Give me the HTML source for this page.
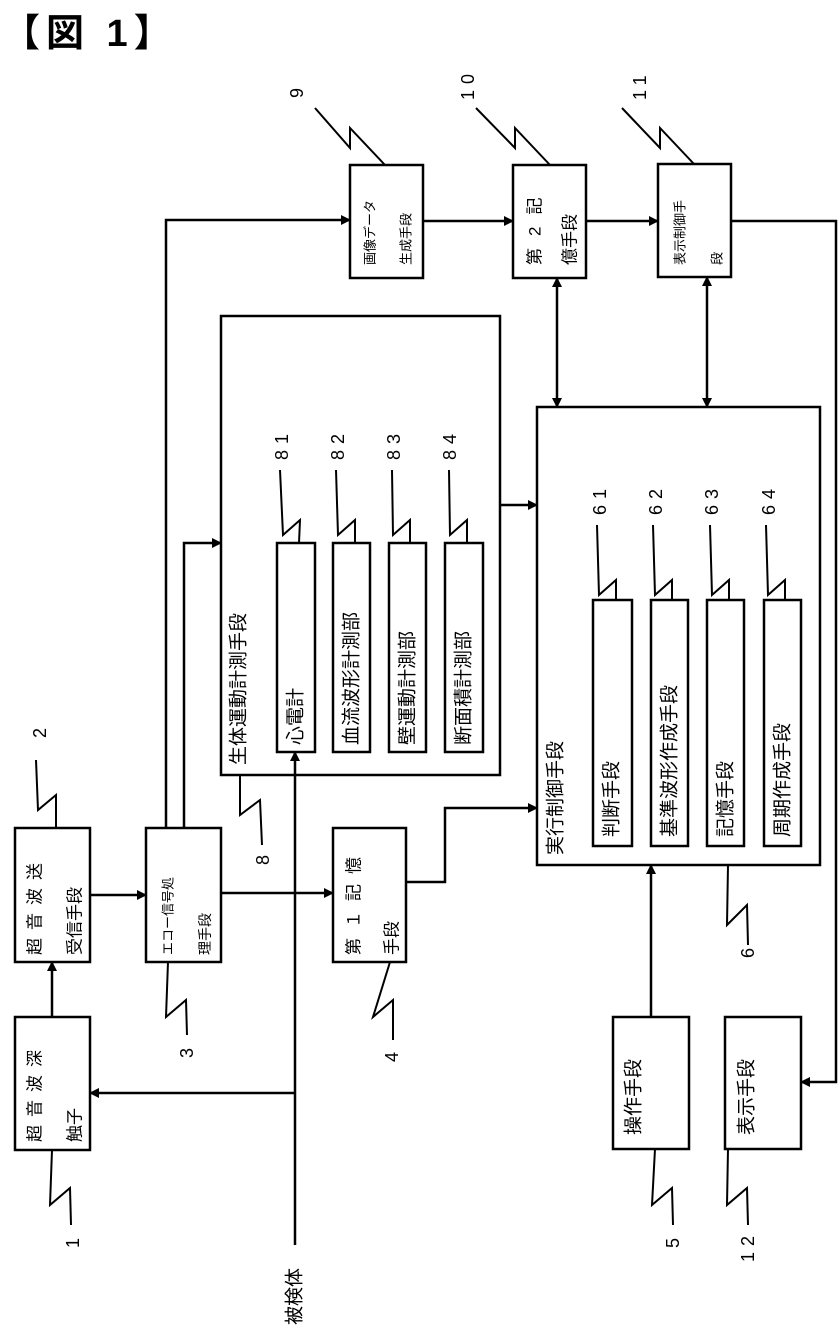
<!DOCTYPE html>
<html><head><meta charset="utf-8"><style>
body{margin:0;background:#fff;}
svg{display:block;}
text{font-family:"Liberation Sans","Noto Sans CJK JP",sans-serif;fill:#000;}
</style></head><body>
<svg width="839" height="1327" viewBox="0 0 839 1327" xmlns="http://www.w3.org/2000/svg">
<defs>
<marker id="a" markerWidth="10" markerHeight="10" refX="9" refY="5" orient="auto" markerUnits="userSpaceOnUse"><path d="M0,0 L10,5 L0,10 Z" fill="#000"/></marker>
<marker id="s" markerWidth="10" markerHeight="10" refX="1" refY="5" orient="auto" markerUnits="userSpaceOnUse"><path d="M10,0 L0,5 L10,10 Z" fill="#000"/></marker>
</defs>
<text x="2" y="46" font-size="38" font-weight="bold" letter-spacing="6">【図 1】</text>
<g fill="none" stroke="#000" stroke-width="2.5">
<rect x="15" y="1017" width="75" height="133"/>
<rect x="15" y="828" width="75" height="134"/>
<rect x="146" y="828" width="75" height="134"/>
<rect x="333" y="828" width="73" height="134"/>
<rect x="221" y="316" width="279" height="459"/>
<rect x="277" y="543" width="38" height="209"/>
<rect x="333" y="543" width="37" height="209"/>
<rect x="389" y="543" width="37" height="209"/>
<rect x="445" y="543" width="38" height="209"/>
<rect x="350" y="165" width="73" height="113"/>
<rect x="513" y="165" width="73" height="113"/>
<rect x="658" y="164" width="73" height="113"/>
<rect x="537" y="407" width="283" height="458"/>
<rect x="593" y="600" width="39" height="246"/>
<rect x="651" y="600" width="37" height="246"/>
<rect x="707" y="600" width="37" height="246"/>
<rect x="764" y="600" width="37" height="246"/>
<rect x="613" y="1017" width="76" height="132"/>
<rect x="725" y="1017" width="76" height="132"/>
</g>
<g fill="none" stroke="#000" stroke-width="2.5">
<line x1="295" y1="1245" x2="295" y2="752" marker-end="url(#a)"/>
<line x1="295" y1="1093" x2="90" y2="1093" marker-end="url(#a)"/>
<line x1="52" y1="1017" x2="52" y2="962" marker-end="url(#a)"/>
<line x1="90" y1="895" x2="146" y2="895" marker-end="url(#a)"/>
<polyline points="166,828 166,220 350,220" marker-end="url(#a)"/>
<polyline points="184,828 184,543 221,543" marker-end="url(#a)"/>
<line x1="221" y1="893" x2="333" y2="893" marker-end="url(#a)"/>
<polyline points="406,882 445,882 445,808 537,808" marker-end="url(#a)"/>
<line x1="500" y1="505" x2="537" y2="505" marker-end="url(#a)"/>
<line x1="423" y1="221" x2="513" y2="221" marker-end="url(#a)"/>
<line x1="586" y1="221" x2="658" y2="221" marker-end="url(#a)"/>
<line x1="557" y1="278" x2="557" y2="407" marker-start="url(#s)" marker-end="url(#a)"/>
<line x1="707" y1="277" x2="707" y2="407" marker-start="url(#s)" marker-end="url(#a)"/>
<polyline points="731,221 836,221 836,1082 801,1082" marker-end="url(#a)"/>
<line x1="651" y1="1017" x2="651" y2="865" marker-end="url(#a)"/>
</g>
<g fill="none" stroke="#000" stroke-width="2">
<polyline points="52,1150 50,1205 70,1188 71,1225"/>
<polyline points="168,962 166,1017 186,1000 187,1035"/>
<polyline points="390,962 373,1017 393,1000 393,1040"/>
<polyline points="655,1149 652,1205 672,1188 673,1225"/>
<polyline points="728,1149 727,1205 747,1188 748,1225"/>
<polyline points="728,865 727,925 747,905 748,945"/>
<polyline points="240,775 240,815 260,800 262,845"/>
<polyline points="56,828 56,795 38,810 36,760"/>
<polyline points="299,543 300,520 283,535 280,470"/>
<polyline points="355,543 355,520 338,535 336,470"/>
<polyline points="410,543 410,520 393,535 392,470"/>
<polyline points="467,543 467,520 450,535 449,470"/>
<polyline points="616,600 616,580 599,595 597,525"/>
<polyline points="672,600 672,580 655,595 653,525"/>
<polyline points="729,600 729,580 712,595 710,525"/>
<polyline points="785,600 785,580 768,595 766,525"/>
<polyline points="385,165 350,128 350,148 315,108"/>
<polyline points="550,165 515,128 515,148 476,108"/>
<polyline points="694,164 660,128 660,148 622,108"/>
</g>
<g font-size="17">
<text transform="translate(35,1142) rotate(-90)" dominant-baseline="central" letter-spacing="8">超音波深</text>
<text transform="translate(75,1142) rotate(-90)" dominant-baseline="central">触子</text>
<text transform="translate(35,955) rotate(-90)" dominant-baseline="central" letter-spacing="8">超音波送</text>
<text transform="translate(75,955) rotate(-90)" dominant-baseline="central">受信手段</text>
<text transform="translate(168,955) rotate(-90)" dominant-baseline="central" font-size="13">エコー信号処</text>
<text transform="translate(205,955) rotate(-90)" dominant-baseline="central" font-size="14">理手段</text>
<text transform="translate(354,955) rotate(-90)" dominant-baseline="central" letter-spacing="10">第１記憶</text>
<text transform="translate(392,955) rotate(-90)" dominant-baseline="central">手段</text>
<text transform="translate(239,765) rotate(-90)" dominant-baseline="central" font-size="19">生体運動計測手段</text>
<text transform="translate(296,745) rotate(-90)" dominant-baseline="central" font-size="19">心電計</text>
<text transform="translate(352,745) rotate(-90)" dominant-baseline="central" font-size="19">血流波形計測部</text>
<text transform="translate(408,745) rotate(-90)" dominant-baseline="central" font-size="19">壁運動計測部</text>
<text transform="translate(464,745) rotate(-90)" dominant-baseline="central" font-size="19">断面積計測部</text>
<text transform="translate(370,265) rotate(-90)" dominant-baseline="central" font-size="13">画像データ</text>
<text transform="translate(406,265) rotate(-90)" dominant-baseline="central" font-size="13">生成手段</text>
<text transform="translate(535,265) rotate(-90)" dominant-baseline="central" letter-spacing="12">第2記</text>
<text transform="translate(570,265) rotate(-90)" dominant-baseline="central">億手段</text>
<text transform="translate(680,265) rotate(-90)" dominant-baseline="central" font-size="13">表示制御手</text>
<text transform="translate(717,265) rotate(-90)" dominant-baseline="central" font-size="13">段</text>
<text transform="translate(556,855) rotate(-90)" dominant-baseline="central" font-size="19">実行制御手段</text>
<text transform="translate(612,837) rotate(-90)" dominant-baseline="central" font-size="19">判断手段</text>
<text transform="translate(670,837) rotate(-90)" dominant-baseline="central" font-size="19">基準波形作成手段</text>
<text transform="translate(726,837) rotate(-90)" dominant-baseline="central" font-size="19">記憶手段</text>
<text transform="translate(783,837) rotate(-90)" dominant-baseline="central" font-size="19">周期作成手段</text>
<text transform="translate(634,1135) rotate(-90)" dominant-baseline="central" font-size="19">操作手段</text>
<text transform="translate(747,1135) rotate(-90)" dominant-baseline="central" font-size="19">表示手段</text>
<text transform="translate(295,1325) rotate(-90)" dominant-baseline="central" font-size="19">被検体</text>
</g>
<g font-size="18">
<text transform="translate(73,1248) rotate(-90)" dominant-baseline="central">1</text>
<text transform="translate(40,738) rotate(-90)" dominant-baseline="central">2</text>
<text transform="translate(187,1058) rotate(-90)" dominant-baseline="central">3</text>
<text transform="translate(392,1062) rotate(-90)" dominant-baseline="central">4</text>
<text transform="translate(673,1248) rotate(-90)" dominant-baseline="central">5</text>
<text transform="translate(748,958) rotate(-90)" dominant-baseline="central">6</text>
<text transform="translate(263,865) rotate(-90)" dominant-baseline="central">8</text>
<text transform="translate(297,98) rotate(-90)" dominant-baseline="central">9</text>
<text transform="translate(468,100) rotate(-90)" dominant-baseline="central" letter-spacing="6">10</text>
<text transform="translate(640,100) rotate(-90)" dominant-baseline="central" letter-spacing="6">11</text>
<text transform="translate(748,1262) rotate(-90)" dominant-baseline="central" letter-spacing="6">12</text>
<text transform="translate(282,460) rotate(-90)" dominant-baseline="central" letter-spacing="6">81</text>
<text transform="translate(338,460) rotate(-90)" dominant-baseline="central" letter-spacing="6">82</text>
<text transform="translate(394,460) rotate(-90)" dominant-baseline="central" letter-spacing="6">83</text>
<text transform="translate(450,460) rotate(-90)" dominant-baseline="central" letter-spacing="6">84</text>
<text transform="translate(600,515) rotate(-90)" dominant-baseline="central" letter-spacing="6">61</text>
<text transform="translate(656,515) rotate(-90)" dominant-baseline="central" letter-spacing="6">62</text>
<text transform="translate(712,515) rotate(-90)" dominant-baseline="central" letter-spacing="6">63</text>
<text transform="translate(769,515) rotate(-90)" dominant-baseline="central" letter-spacing="6">64</text>
</g>
</svg>
</body></html>
